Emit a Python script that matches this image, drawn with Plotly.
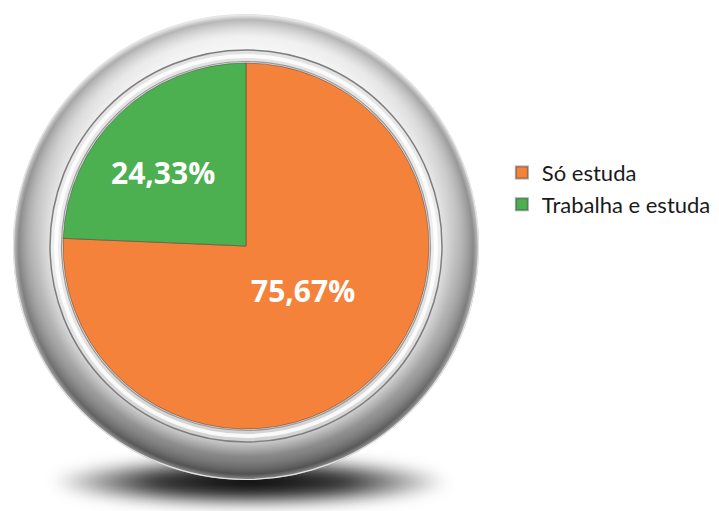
import base64
import plotly.graph_objects as go

# Dados
categorias = ["Só estuda", "Trabalha e estuda"]
percentuais = [75.67, 24.33]
cores = ["#F5823A", "#4CAF50"]

W, H = 719, 511
CX, CY = 246, 246      # centro do disco (px)
R_PIE = 183            # raio da pizza (px)

# Moldura metálica e sombra desenhadas como imagem SVG de fundo
moldura_svg = f"""<svg xmlns="http://www.w3.org/2000/svg" width="{W}" height="{H}" viewBox="0 0 {W} {H}">
<defs>
  <radialGradient id="sombra" cx="0.5" cy="0.5" r="0.5">
    <stop offset="0" stop-color="#000" stop-opacity="1"/>
    <stop offset="0.5" stop-color="#000" stop-opacity="0.8"/>
    <stop offset="1" stop-color="#000" stop-opacity="0"/>
  </radialGradient>
  <linearGradient id="aro" x1="0" y1="0" x2="0" y2="1">
    <stop offset="0" stop-color="#f6f6f6"/>
    <stop offset="0.3" stop-color="#cecece"/>
    <stop offset="0.7" stop-color="#9e9e9e"/>
    <stop offset="1" stop-color="#6a6a6a"/>
  </linearGradient>
  <radialGradient id="relevo" cx="0.5" cy="0.5" r="0.5">
    <stop offset="0.84" stop-color="#fff" stop-opacity="0.6"/>
    <stop offset="0.9" stop-color="#fff" stop-opacity="0.15"/>
    <stop offset="0.975" stop-color="#000" stop-opacity="0.25"/>
    <stop offset="1" stop-color="#fff" stop-opacity="0.3"/>
  </radialGradient>
  <linearGradient id="anel" x1="0" y1="0" x2="0" y2="1">
    <stop offset="0" stop-color="#e2e2e2"/>
    <stop offset="0.5" stop-color="#eeeeee"/>
    <stop offset="1" stop-color="#d2d2d2"/>
  </linearGradient>
  <filter id="desfoque" x="-30%" y="-100%" width="160%" height="300%">
    <feGaussianBlur stdDeviation="7"/>
  </filter>
</defs>
<ellipse cx="250" cy="482" rx="200" ry="25" fill="url(#sombra)" filter="url(#desfoque)"/>
<circle cx="{CX}" cy="{CY + 1}" r="233" fill="url(#aro)"/>
<circle cx="{CX}" cy="{CY + 1}" r="233" fill="url(#relevo)"/>
<circle cx="{CX}" cy="{CY + 1}" r="232.5" fill="none" stroke="#e4e4e4" stroke-width="1.2"/>
<circle cx="{CX}" cy="{CY}" r="196" fill="url(#anel)" stroke="#7e7e7e" stroke-width="1.5"/>
<circle cx="{CX}" cy="{CY}" r="190" fill="none" stroke="#ffffff" stroke-width="4" stroke-opacity="0.85"/>
<circle cx="{CX}" cy="{CY}" r="184.5" fill="none" stroke="#9a9a9a" stroke-width="1.2"/>
</svg>"""
moldura_uri = "data:image/svg+xml;base64," + base64.b64encode(moldura_svg.encode("utf-8")).decode("ascii")

# Rótulos de percentual com vírgula decimal, gerados a partir dos valores
rotulos = [f"{v:.2f}".replace(".", ",") + "%" for v in percentuais]
posicoes_rotulo = [(303, 290), (163, 172)]

fig = go.Figure(
    go.Pie(
        labels=categorias,
        values=percentuais,
        marker=dict(colors=cores, line=dict(color="rgba(60,60,60,0.45)", width=1)),
        sort=False,
        direction="clockwise",
        rotation=0,
        textinfo="none",
        hoverinfo="label+percent",
        domain=dict(
            x=[(CX - R_PIE) / W, (CX + R_PIE) / W],
            y=[1 - (CY + R_PIE) / H, 1 - (CY - R_PIE) / H],
        ),
    )
)

for texto, (px, py) in zip(rotulos, posicoes_rotulo):
    fig.add_annotation(
        x=px / W,
        y=1 - py / H,
        xref="paper",
        yref="paper",
        text=texto,
        showarrow=False,
        font=dict(family="Open Sans", size=30, color="white", weight="bold"),
        xanchor="center",
        yanchor="middle",
    )

fig.update_layout(
    width=W,
    height=H,
    margin=dict(l=0, r=0, t=0, b=0, autoexpand=False),
    paper_bgcolor="white",
    showlegend=True,
    legend=dict(
        x=0.698,
        y=0.703,
        xanchor="left",
        yanchor="top",
        font=dict(family="Lato", size=22, color="#1a1a1a"),
        itemsizing="constant",
        bgcolor="rgba(0,0,0,0)",
    ),
    images=[
        dict(
            source=moldura_uri,
            xref="paper",
            yref="paper",
            x=0,
            y=1,
            sizex=1,
            sizey=1,
            xanchor="left",
            yanchor="top",
            sizing="stretch",
            layer="below",
        )
    ],
)

fig.write_html("out.html")
